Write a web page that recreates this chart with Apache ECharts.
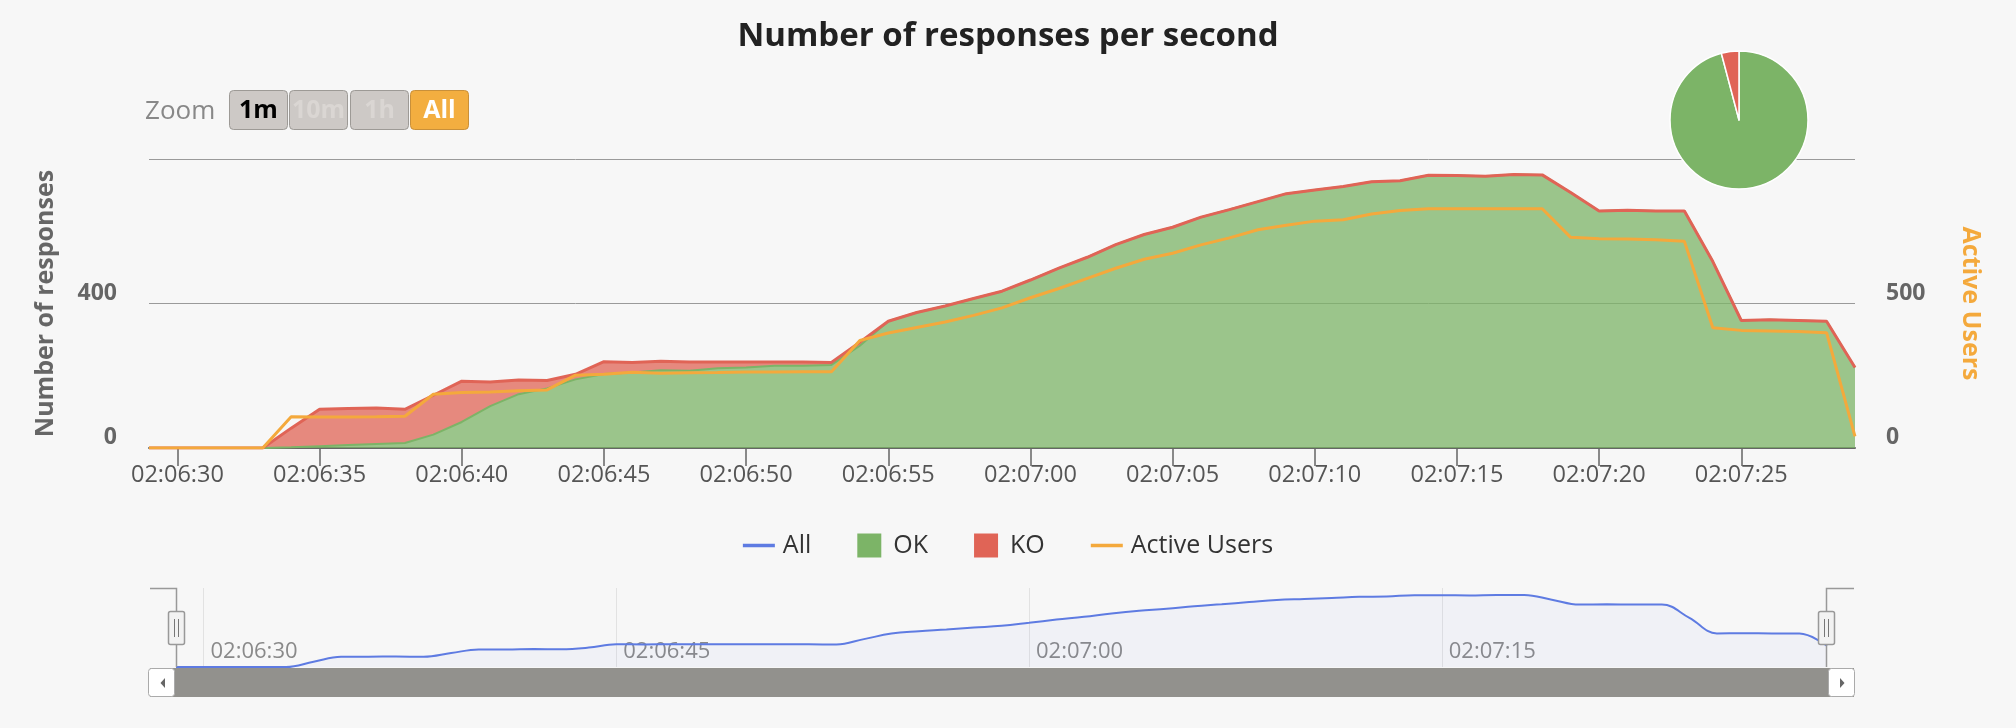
<!DOCTYPE html>
<html>
<head>
<meta charset="utf-8">
<script src="https://cdn.jsdelivr.net/npm/echarts@6/dist/echarts.min.js"></script>
<style>
html,body{margin:0;padding:0;background:#f7f7f7;}
#chart{width:2016px;height:728px;}
</style>
</head>
<body>
<div id="chart"></div>
<script>
// ---- data ----
const times = [
  '02:06:29','02:06:30','02:06:31','02:06:32','02:06:33','02:06:34','02:06:35','02:06:36','02:06:37','02:06:38',
  '02:06:39','02:06:40','02:06:41','02:06:42','02:06:43','02:06:44','02:06:45','02:06:46','02:06:47','02:06:48',
  '02:06:49','02:06:50','02:06:51','02:06:52','02:06:53','02:06:54','02:06:55','02:06:56','02:06:57','02:06:58',
  '02:06:59','02:07:00','02:07:01','02:07:02','02:07:03','02:07:04','02:07:05','02:07:06','02:07:07','02:07:08',
  '02:07:09','02:07:10','02:07:11','02:07:12','02:07:13','02:07:14','02:07:15','02:07:16','02:07:17','02:07:18',
  '02:07:19','02:07:20','02:07:21','02:07:22','02:07:23','02:07:24','02:07:25','02:07:26','02:07:27','02:07:28',
  '02:07:29'
];
const okValues = [
  0,0,0,0,0, 2,5,8,11,14,
  37,72,116,149,165, 190,205,209,215,214,
  221,223,228,228,230, 283,351,375,393,414,
  434,465,498,528,563, 591,611,639,660,682,
  704,714,724,737,740, 755,754,752,757,756,
  707,656,658,656,656, 516,353,355,353,351,
  223
];
const koValues = [
  0,0,0,0,0, 53,102,101,100,93,
  109,113,67,39,22, 14,34,28,25,24,
  17,15,10,10,7, 10,0,0,0,0,
  0,0,0,0,0, 0,0,0,0,0,
  0,0,0,0,0, 0,0,0,0,0,
  0,0,0,0,0, 0,0,0,0,0,
  0
];
const activeUsers = [
  0,0,0,0,0, 108,107,107,108,110,
  186,192,194,198,201, 252,255,262,259,260,
  261,263,263,264,264, 372,398,417,436,459,
  485,520,552,587,622, 653,674,703,727,755,
  771,785,790,810,822, 828,828,828,828,828,
  729,724,723,721,715, 416,407,405,403,399,
  40
];
const responsesAxis = {min: 0, max: 800, step: 400};
const usersAxis = {min: 0, max: 1000, step: 500};
const zoomButtons = ['1m', '10m', '1h', 'All'];

// ---- derived ----
const allValues = okValues.map((v, i) => v + koValues[i]);
const okTotal = okValues.reduce((a, b) => a + b, 0);
const koTotal = koValues.reduce((a, b) => a + b, 0);

const FONT = '"Open Sans", "DejaVu Sans", sans-serif';
const C_OK = '#7cb467', C_KO = '#e06456', C_USERS = '#f4a93c', C_ALL = '#5e7be2';

// ---- range-selector and navigator decoration ----
const graphics = [];
graphics.push({type: 'text', x: 145, y: 112, z: 100,
  style: {text: 'Zoom', fill: '#888', font: '26px ' + FONT, verticalAlign: 'middle'}});
const btnX = [229, 289, 350, 410];
zoomButtons.forEach((label, i) => {
  const active = label === 'All';
  graphics.push({type: 'rect', z: 100,
    shape: {x: btnX[i] + 0.5, y: 90.5, width: 58, height: 39, r: 4},
    style: {fill: active ? '#f3ae40' : '#cdc9c6', stroke: active ? '#c9903a' : '#9d9a96', lineWidth: 1}});
  graphics.push({type: 'text', z: 101, x: btnX[i] + 29.5, y: 110.5,
    style: {text: label, align: 'center', verticalAlign: 'middle',
      font: 'bold 25px ' + FONT,
      fill: active ? '#ffffff' : (i === 0 ? '#000000' : '#dad6d3')}});
});
// navigator outline
graphics.push({type: 'polyline', z: 100, shape: {points: [[150, 588.5], [176.5, 588.5], [176.5, 667]]},
  style: {stroke: '#999', lineWidth: 1.5, fill: null}});
graphics.push({type: 'polyline', z: 100, shape: {points: [[1854, 588.5], [1826.5, 588.5], [1826.5, 667]]},
  style: {stroke: '#999', lineWidth: 1.5, fill: null}});
// handles
[168.5, 1818.5].forEach(hx => {
  graphics.push({type: 'rect', z: 101, shape: {x: hx, y: 611.5, width: 16, height: 33, r: 2},
    style: {fill: '#f2f2f2', stroke: '#999', lineWidth: 1.5}});
  graphics.push({type: 'line', z: 102, shape: {x1: hx + 6, y1: 619, x2: hx + 6, y2: 637},
    style: {stroke: '#777', lineWidth: 1}});
  graphics.push({type: 'line', z: 102, shape: {x1: hx + 10, y1: 619, x2: hx + 10, y2: 637},
    style: {stroke: '#777', lineWidth: 1}});
});
// scrollbar
graphics.push({type: 'rect', z: 99, shape: {x: 150, y: 668, width: 1704, height: 29},
  style: {fill: '#92918d'}});
graphics.push({type: 'rect', z: 100, shape: {x: 148.5, y: 668.5, width: 26, height: 28, r: 3},
  style: {fill: '#ffffff', stroke: '#aaa', lineWidth: 1}});
graphics.push({type: 'polygon', z: 101, shape: {points: [[160.5, 683], [165, 678], [165, 688]]},
  style: {fill: '#666'}});
graphics.push({type: 'rect', z: 100, shape: {x: 1828.5, y: 668.5, width: 26, height: 28, r: 3},
  style: {fill: '#ffffff', stroke: '#aaa', lineWidth: 1}});
graphics.push({type: 'polygon', z: 101, shape: {points: [[1840, 678], [1840, 688], [1844.5, 683]]},
  style: {fill: '#666'}});

const mainTickEvery = (i) => i % 5 === 1;
const navTickEvery = (i) => i % 15 === 1;
const LINE_ICON = 'path://M0 0H32V3.5H0Z';
const SQUARE_ICON = 'path://M0 0H24V24H0Z';

const option = {
  animation: false,
  backgroundColor: '#f7f7f7',
  textStyle: {fontFamily: FONT},
  title: {
    text: 'Number of responses per second',
    left: 'center', top: 15,
    textStyle: {fontSize: 33, fontWeight: 'bold', color: '#222', fontFamily: FONT}
  },
  legend: {
    top: 528, left: 'center',
    itemWidth: 32, itemHeight: 24, itemGap: 46,
    textStyle: {fontSize: 25, color: '#333', fontFamily: FONT, padding: [0, 0, 0, 3]},
    data: [
      {name: 'All', icon: LINE_ICON},
      {name: 'OK', icon: SQUARE_ICON},
      {name: 'KO', icon: SQUARE_ICON},
      {name: 'Active Users', icon: LINE_ICON}
    ]
  },
  grid: [
    {left: 149, right: 161, top: 159, height: 289, containLabel: false},
    {left: 176, right: 189, top: 588, height: 79, containLabel: false}
  ],
  xAxis: [
    {
      gridIndex: 0, type: 'category', data: times, boundaryGap: false,
      axisLine: {show: true, lineStyle: {color: '#666', width: 2}},
      axisTick: {show: true, interval: mainTickEvery, length: 18, lineStyle: {color: '#666', width: 1.5}},
      axisLabel: {interval: mainTickEvery, color: '#555', fontSize: 23.5, margin: 15, fontFamily: FONT},
      splitLine: {show: false}
    },
    {
      gridIndex: 1, type: 'category', data: times, boundaryGap: false,
      axisLine: {show: false}, axisTick: {show: false},
      axisLabel: {inside: true, interval: navTickEvery, align: 'left', padding: [0, 0, 0, 7],
        color: '#8a8a8a', fontSize: 22, margin: 4, fontFamily: FONT},
      splitLine: {show: true, interval: navTickEvery, lineStyle: {color: '#e2e2e2', width: 1}}
    }
  ],
  yAxis: [
    {
      gridIndex: 0, type: 'value', min: responsesAxis.min, max: responsesAxis.max, interval: responsesAxis.step,
      name: 'Number of responses', nameLocation: 'middle', nameGap: 91,
      nameTextStyle: {fontWeight: 'bold', fontSize: 25, color: '#666', fontFamily: FONT},
      axisLine: {show: false}, axisTick: {show: false},
      axisLabel: {showMaxLabel: false, fontWeight: 'bold', color: '#666', fontSize: 23, margin: 32,
        verticalAlign: 'bottom', lineHeight: 21, fontFamily: FONT},
      splitLine: {show: true, lineStyle: {color: '#9a9a9a', width: 1}}
    },
    {
      gridIndex: 0, type: 'value', position: 'right', min: usersAxis.min, max: usersAxis.max, interval: usersAxis.step,
      name: 'Active Users', nameLocation: 'middle', nameGap: 103, nameRotate: -90,
      nameTextStyle: {fontWeight: 'bold', fontSize: 25, color: C_USERS, fontFamily: FONT},
      axisLine: {show: false}, axisTick: {show: false},
      axisLabel: {showMaxLabel: false, fontWeight: 'bold', color: '#666', fontSize: 23, margin: 31,
        verticalAlign: 'bottom', lineHeight: 21, fontFamily: FONT},
      splitLine: {show: false}
    },
    {
      gridIndex: 1, type: 'value', min: 0, max: 830, show: false,
      splitLine: {show: false}
    }
  ],
  series: [
    {
      name: 'OK', type: 'line', xAxisIndex: 0, yAxisIndex: 0, stack: 'responses',
      data: okValues, symbol: 'none', silent: true,
      lineStyle: {color: C_OK, width: 2}, itemStyle: {color: C_OK},
      areaStyle: {color: C_OK, opacity: 0.75}
    },
    {
      name: 'KO', type: 'line', xAxisIndex: 0, yAxisIndex: 0, stack: 'responses',
      data: koValues, symbol: 'none', silent: true,
      lineStyle: {color: C_KO, width: 3}, itemStyle: {color: C_KO},
      areaStyle: {color: C_KO, opacity: 0.75}
    },
    {
      name: 'Active Users', type: 'line', xAxisIndex: 0, yAxisIndex: 1,
      data: activeUsers, symbol: 'none', silent: true, z: 3,
      lineStyle: {color: C_USERS, width: 3}, itemStyle: {color: C_USERS}
    },
    {
      name: 'All', type: 'line', xAxisIndex: 1, yAxisIndex: 2,
      data: allValues, symbol: 'none', silent: true, smooth: 0.4,
      lineStyle: {color: C_ALL, width: 2}, itemStyle: {color: C_ALL},
      areaStyle: {color: 'rgba(94,123,226,0.06)'}
    },
    {
      name: 'Responses split', type: 'pie', center: [1739, 120], radius: 69,
      startAngle: 90, clockwise: true, silent: true, z: 10,
      label: {show: false}, labelLine: {show: false},
      itemStyle: {borderColor: '#ffffff', borderWidth: 1.5},
      data: [
        {name: 'OK', value: okTotal, itemStyle: {color: C_OK}},
        {name: 'KO', value: koTotal, itemStyle: {color: C_KO}}
      ]
    }
  ],
  graphic: graphics
};

const chart = echarts.init(document.getElementById('chart'), null, {renderer: 'canvas'});
chart.setOption(option);
</script>
</body>
</html>
